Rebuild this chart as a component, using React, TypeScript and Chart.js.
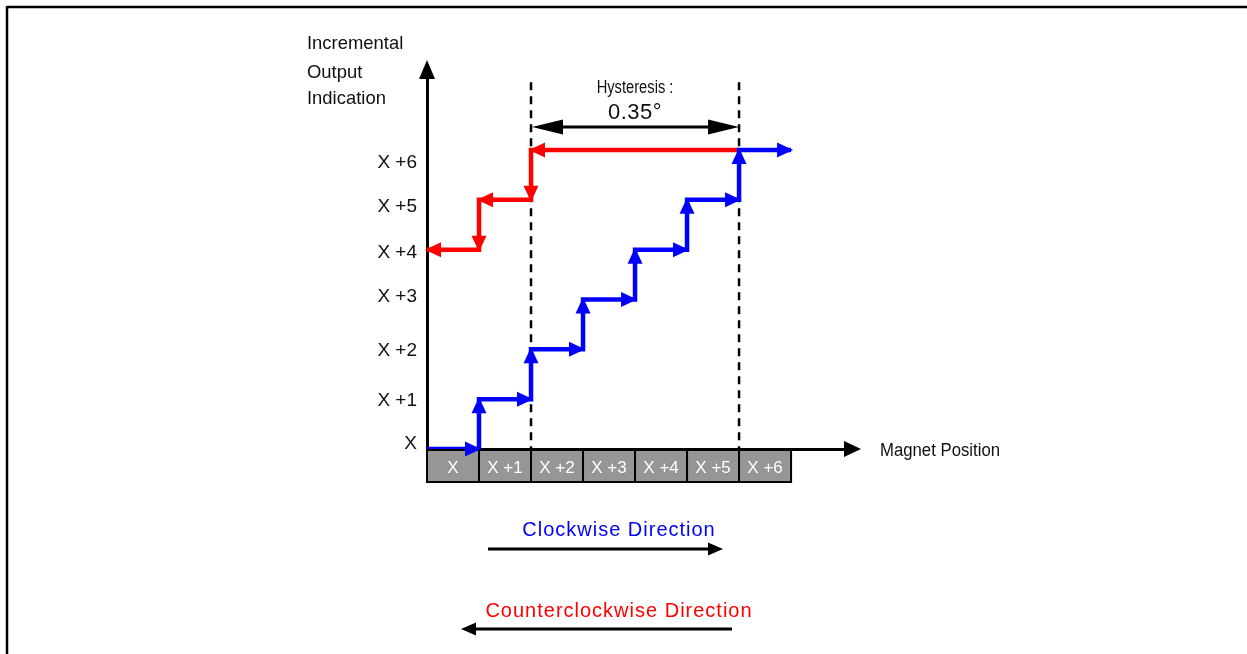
import React, { useEffect, useRef } from "react";
import { Chart, registerables } from "chart.js";

Chart.register(...registerables);

// ---- data ----
const boxLabels = ["X", "X +1", "X +2", "X +3", "X +4", "X +5", "X +6"];
const boxCenters = [0.5, 1.5, 2.5, 3.5, 4.5, 5.5, 6.5];
const yTickLabels = ["X", "X +1", "X +2", "X +3", "X +4", "X +5", "X +6"];
const yTickValues = [0.1, 0.96, 1.97, 3.05, 3.93, 4.86, 5.74];

const cwX = [0, 1, 1, 2, 2, 3, 3, 4, 4, 5, 5, 6, 6, 7];
const cwY = [0, 0, 1, 1, 2, 2, 3, 3, 4, 4, 5, 5, 6, 6];
const ccwX = [6, 2, 2, 1, 1, 0];
const ccwY = [6, 6, 5, 5, 4, 4];

const hysteresisFrom = 2;
const hysteresisTo = 6;
const hysteresisLevel = 6.46;
const dashTop = 7.36;
const hysteresisLabel = "Hysteresis :";
const hysteresisValue = "0.35°";

const yTitle = ["Incremental", "Output", "Indication"];
const xTitle = "Magnet Position";
const cwText = "Clockwise Direction";
const ccwText = "Counterclockwise Direction";

const SANS = "'Liberation Sans', Arial, sans-serif";

function arrowHead(ctx: CanvasRenderingContext2D, x: number, y: number, angle: number, len: number, halfW: number, color: string) {
  ctx.save();
  ctx.translate(x, y);
  ctx.rotate(angle);
  ctx.beginPath();
  ctx.moveTo(0, 0);
  ctx.lineTo(-len, -halfW);
  ctx.lineTo(-len, halfW);
  ctx.closePath();
  ctx.fillStyle = color;
  ctx.fill();
  ctx.restore();
}

function line(ctx: CanvasRenderingContext2D, x1: number, y1: number, x2: number, y2: number, w: number, color: string, dash: number[] = []) {
  ctx.save();
  ctx.beginPath();
  ctx.setLineDash(dash);
  ctx.moveTo(x1, y1);
  ctx.lineTo(x2, y2);
  ctx.lineWidth = w;
  ctx.strokeStyle = color;
  ctx.stroke();
  ctx.restore();
}

function text(ctx: CanvasRenderingContext2D, s: string, x: number, y: number, font: string, color: string, align: CanvasTextAlign, spacing = "0px", sx = 1) {
  ctx.save();
  ctx.translate(x, y);
  ctx.scale(sx, 1);
  ctx.font = font;
  ctx.fillStyle = color;
  ctx.textAlign = align;
  ctx.textBaseline = "middle";
  (ctx as any).letterSpacing = spacing;
  ctx.fillText(s, 0, 0);
  ctx.restore();
}

const diagramPlugin = {
  id: "diagram",
  beforeDraw(chart: any) {
    const ctx: CanvasRenderingContext2D = chart.ctx;
    const xs = chart.scales.x;
    const ys = chart.scales.y;
    const base = ys.getPixelForValue(0);
    for (let i = 0; i < boxLabels.length; i++) {
      const l = xs.getPixelForValue(i);
      const r = xs.getPixelForValue(i + 1);
      ctx.save();
      ctx.fillStyle = "#969696";
      ctx.fillRect(l, base, r - l, 33);
      ctx.lineWidth = 2;
      ctx.strokeStyle = "#000";
      ctx.strokeRect(l, base, r - l, 33);
      ctx.restore();
    }
  },
  beforeDatasetsDraw(chart: any) {
    const ctx: CanvasRenderingContext2D = chart.ctx;
    const xs = chart.scales.x;
    const ys = chart.scales.y;
    const top = ys.getPixelForValue(dashTop);
    const base = ys.getPixelForValue(0);
    [hysteresisFrom, hysteresisTo].forEach((v) => {
      const px = xs.getPixelForValue(v);
      line(ctx, px, top, px, base, 2.5, "#000", [8, 6]);
    });
  },
  afterDatasetsDraw(chart: any) {
    const ctx: CanvasRenderingContext2D = chart.ctx;
    chart.data.datasets.forEach((ds: any, i: number) => {
      const pts = chart.getDatasetMeta(i).data;
      for (let j = 1; j < pts.length; j++) {
        const a = pts[j - 1];
        const b = pts[j];
        const ang = Math.atan2(b.y - a.y, b.x - a.x);
        arrowHead(ctx, b.x + 2 * Math.cos(ang), b.y + 2 * Math.sin(ang), ang, 16, 7.5, ds.borderColor);
      }
    });
  },
  afterDraw(chart: any) {
    const ctx: CanvasRenderingContext2D = chart.ctx;
    const xs = chart.scales.x;
    const ys = chart.scales.y;
    const area = chart.chartArea;
    // frame
    line(ctx, 7, 7, 1247, 7, 2.5, "#000");
    line(ctx, 7, 6, 7, 654, 2.5, "#000");
    // axis arrowheads
    arrowHead(ctx, area.left, area.top - 6, -Math.PI / 2, 19, 8, "#000");
    arrowHead(ctx, area.right + 7, area.bottom, 0, 17, 8, "#000");
    // axis titles
    const yt = [44, 73, 99];
    yTitle.forEach((s, i) => text(ctx, s, 307, yt[i], `19px ${SANS}`, "#111", "left", "0px", 0.97));
    text(ctx, xTitle, 880, 451, `18px ${SANS}`, "#111", "left", "0px", 0.93);
    // hysteresis
    const hx1 = xs.getPixelForValue(hysteresisFrom);
    const hx2 = xs.getPixelForValue(hysteresisTo);
    const hy = ys.getPixelForValue(hysteresisLevel);
    line(ctx, hx1 + 10, hy, hx2 - 10, hy, 3, "#000");
    arrowHead(ctx, hx1 + 1, hy, Math.PI, 31, 7.5, "#000");
    arrowHead(ctx, hx2, hy, 0, 31, 7.5, "#000");
    const hc = (hx1 + hx2) / 2;
    text(ctx, hysteresisLabel, hc, 88, `17.5px ${SANS}`, "#111", "center", "0px", 0.84);
    text(ctx, hysteresisValue, hc, 113, `22px ${SANS}`, "#111", "center", "0.5px");
    // direction legend
    text(ctx, cwText, 619, 530, `20px ${SANS}`, "#0000ff", "center", "1px");
    line(ctx, 488, 549, 712, 549, 3, "#000");
    arrowHead(ctx, 723, 549, 0, 15, 6.5, "#000");
    text(ctx, ccwText, 619, 611, `20px ${SANS}`, "#ff0000", "center", "1px");
    line(ctx, 472, 629, 732, 629, 3, "#000");
    arrowHead(ctx, 461, 629, Math.PI, 15, 6.5, "#000");
  },
};

export default function App() {
  const ref = useRef<HTMLCanvasElement>(null);
  useEffect(() => {
    document.body.style.margin = "0";
    const canvas = ref.current!;
    const chart = new Chart(canvas, {
      type: "line",
      data: {
        datasets: [
          {
            label: "Clockwise",
            data: cwX.map((x, i) => ({ x, y: cwY[i] })),
            borderColor: "#0000ff",
            borderWidth: 4.5,
            pointRadius: 0,
            tension: 0,
            fill: false,
            borderJoinStyle: "miter",
          },
          {
            label: "Counterclockwise",
            data: ccwX.map((x, i) => ({ x, y: ccwY[i] })),
            borderColor: "#ff0000",
            borderWidth: 4.5,
            pointRadius: 0,
            tension: 0,
            fill: false,
            borderJoinStyle: "miter",
          },
        ],
      },
      options: {
        animation: false,
        responsive: true,
        maintainAspectRatio: false,
        events: [],
        layout: { padding: { top: 66, right: 393, left: 0, bottom: 0 } },
        plugins: { legend: { display: false }, tooltip: { enabled: false } },
        scales: {
          x: {
            type: "linear",
            min: 0,
            max: 8.21,
            grid: { display: false, drawTicks: false },
            border: { display: true, color: "#000", width: 3 },
            ticks: {
              color: "#ffffff",
              font: { family: SANS, size: 17 },
              padding: 9,
              autoSkip: false,
              maxRotation: 0,
              callback: (_v: any, i: number) => boxLabels[i],
            },
            afterBuildTicks: (s: any) => {
              s.ticks = boxCenters.map((v) => ({ value: v }));
            },
            afterFit: (s: any) => {
              s.height = 205;
              s.paddingLeft = 0;
              s.paddingRight = 0;
            },
          },
          y: {
            type: "linear",
            min: 0,
            max: 7.686,
            grid: { display: false, drawTicks: false },
            border: { display: true, color: "#000", width: 3 },
            ticks: {
              color: "#111",
              font: { family: SANS, size: 19 },
              padding: 10,
              autoSkip: false,
              callback: (_v: any, i: number) => yTickLabels[i],
            },
            afterBuildTicks: (s: any) => {
              s.ticks = yTickValues.map((v) => ({ value: v }));
            },
            afterFit: (s: any) => {
              s.width = 427;
              s.paddingTop = 0;
              s.paddingBottom = 0;
            },
          },
        },
      },
      plugins: [diagramPlugin],
    } as any);
    return () => chart.destroy();
  }, []);
  return (
    <div style={{ position: "relative", width: "1247px", height: "654px", background: "#fff" }}>
      <canvas ref={ref} style={{ display: "block" }} />
    </div>
  );
}
